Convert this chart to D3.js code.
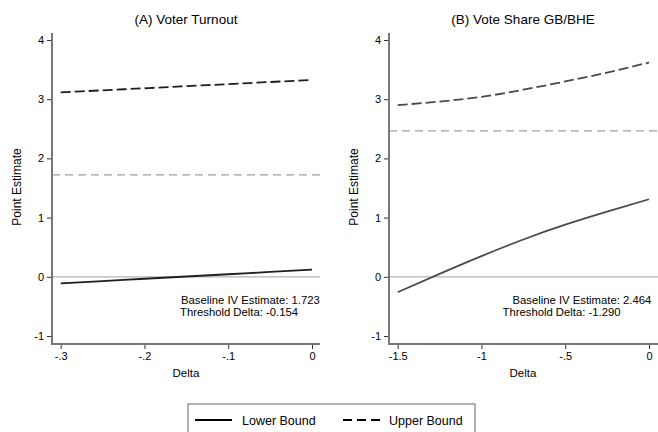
<!DOCTYPE html>
<html><head><meta charset="utf-8">
<script src="https://cdn.jsdelivr.net/npm/d3@7"></script>
<style>
html,body{margin:0;padding:0;background:#fff;}
svg{display:block;font-family:"Liberation Sans",Arial,sans-serif;}
</style></head>
<body>
<svg id="chart" width="658" height="432"></svg>
<script>
// ---- data ----
const deltaA = [-0.3, -0.25, -0.2, -0.15, -0.1, -0.05, 0];
const lowerA = [-0.11, -0.072, -0.033, 0.005, 0.043, 0.082, 0.12];
const upperA = [3.115, 3.15, 3.185, 3.22, 3.255, 3.29, 3.325];
const baselineA = 1.723;
const thresholdA = "-0.154";

const deltaB = [-1.5, -1.25, -1, -0.75, -0.5, -0.25, 0];
const lowerB = [-0.26, 0.05, 0.35, 0.63, 0.88, 1.10, 1.31];
const upperB = [2.90, 2.96, 3.04, 3.16, 3.30, 3.45, 3.62];
const baselineB = 2.464;
const thresholdB = "-1.290";

const yTicks = [-1, 0, 1, 2, 3, 4];
const yTickLabels = ["-1", "0", "1", "2", "3", "4"];
const xTicksA = [-0.3, -0.2, -0.1, 0];
const xTickLabelsA = ["-.3", "-.2", "-.1", "0"];
const xTicksB = [-1.5, -1, -0.5, 0];
const xTickLabelsB = ["-1.5", "-1", "-.5", "0"];
const titles = ["(A) Voter Turnout", "(B) Vote Share GB/BHE"];
const legendLabels = ["Lower Bound", "Upper Bound"];

const svg = d3.select("#chart");
const y = d3.scaleLinear().domain([-1, 4]).range([336, 40]);

const panels = [
  {delta: deltaA, lower: lowerA, upper: upperA, base: baselineA, thr: thresholdA,
   xt: xTicksA, xl: xTickLabelsA, title: titles[0],
   x: d3.scaleLinear().domain([-0.3, 0]).range([60.7, 312]),
   left: 52, right: 320, cx: 186, ylab: 21, col: "#1e1e1e",
   ann1x: 181, ann2x: 180},
  {delta: deltaB, lower: lowerB, upper: upperB, base: baselineB, thr: thresholdB,
   xt: xTicksB, xl: xTickLabelsB, title: titles[1],
   x: d3.scaleLinear().domain([-1.5, 0]).range([397.7, 649]),
   left: 389, right: 658, cx: 523, ylab: 358, col: "#4a4a4a",
   ann1x: 512.5, ann2x: 502.5}
];

const plotTop = 33, plotBottom = 344;

panels.forEach(p => {
  const g = svg.append("g");
  // reference lines
  g.append("line").attr("x1", p.left).attr("x2", p.right)
    .attr("y1", y(0)).attr("y2", y(0))
    .attr("stroke", "#b4b4b4").attr("stroke-width", 1.2);
  g.append("line").attr("x1", p.left).attr("x2", p.right)
    .attr("y1", y(p.base)).attr("y2", y(p.base))
    .attr("stroke", "#a0a0a0").attr("stroke-width", 1.2)
    .attr("stroke-dasharray", "8,5");

  const line = (vals) => d3.line()
    .x((d, i) => p.x(p.delta[i])).y(d => y(d))
    .curve(d3.curveNatural)(vals);

  g.append("path").attr("d", line(p.lower)).attr("fill", "none")
    .attr("stroke", p.col).attr("stroke-width", 1.8);
  g.append("path").attr("d", line(p.upper)).attr("fill", "none")
    .attr("stroke", p.col).attr("stroke-width", 1.8)
    .attr("stroke-dasharray", "10,4");

  // y axis
  const ya = g.append("g").attr("transform", `translate(${p.left},0)`)
    .call(d3.axisLeft(y).tickValues(yTicks).tickSize(5).tickPadding(3)
      .tickFormat((d, i) => yTickLabels[i]));
  ya.select(".domain").remove();
  ya.selectAll(".tick line").attr("stroke", "#333");
  ya.selectAll("text").attr("font-size", 11).attr("fill", "#000")
    .attr("font-family", "Liberation Sans, Arial, sans-serif");
  g.append("line").attr("x1", p.left).attr("x2", p.left)
    .attr("y1", plotTop).attr("y2", plotBottom)
    .attr("stroke", "#777").attr("stroke-width", 2);

  // x axis
  const xa = g.append("g").attr("transform", `translate(0,${plotBottom})`)
    .call(d3.axisBottom(p.x).tickValues(p.xt).tickSize(5).tickPadding(3)
      .tickFormat((d, i) => p.xl[i]));
  xa.select(".domain").remove();
  xa.selectAll(".tick line").attr("stroke", "#333");
  xa.selectAll("text").attr("font-size", 11).attr("fill", "#000")
    .attr("font-family", "Liberation Sans, Arial, sans-serif");
  g.append("line").attr("x1", p.left - 1).attr("x2", p.right)
    .attr("y1", plotBottom).attr("y2", plotBottom)
    .attr("stroke", "#777").attr("stroke-width", 2);

  // titles
  g.append("text").attr("x", p.cx).attr("y", 24).attr("text-anchor", "middle")
    .attr("font-size", 13.5).text(p.title);
  g.append("text").attr("x", p.cx).attr("y", 377).attr("text-anchor", "middle")
    .attr("font-size", 11.5).text("Delta");
  g.append("text").attr("transform", `translate(${p.ylab},187) rotate(-90)`)
    .attr("text-anchor", "middle").attr("font-size", 12).text("Point Estimate");

  // annotations
  g.append("text").attr("x", p.ann1x).attr("y", 304).attr("font-size", 11.3)
    .text("Baseline IV Estimate: " + p.base.toFixed(3));
  g.append("text").attr("x", p.ann2x).attr("y", 316).attr("font-size", 11.3)
    .text("Threshold Delta: " + p.thr);
});

// legend
const lg = svg.append("g");
lg.append("rect").attr("x", 188).attr("y", 404).attr("width", 287).attr("height", 40)
  .attr("fill", "none").attr("stroke", "#666").attr("stroke-width", 1);
lg.append("line").attr("x1", 195).attr("x2", 232).attr("y1", 420).attr("y2", 420)
  .attr("stroke", "#000").attr("stroke-width", 2);
lg.append("text").attr("x", 242).attr("y", 424.5).attr("font-size", 12.5).text(legendLabels[0]);
lg.append("line").attr("x1", 343).attr("x2", 380).attr("y1", 420).attr("y2", 420)
  .attr("stroke", "#000").attr("stroke-width", 2).attr("stroke-dasharray", "9,5");
lg.append("text").attr("x", 389).attr("y", 424.5).attr("font-size", 12.5).text(legendLabels[1]);
</script>
</body></html>
